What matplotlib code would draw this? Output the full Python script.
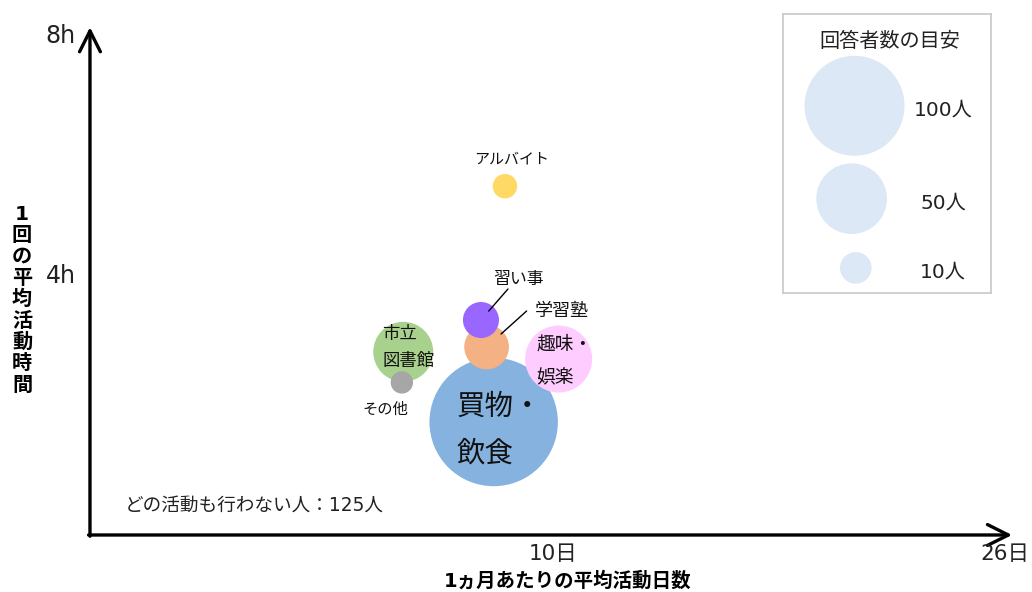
import matplotlib.pyplot as plt

plt.rcParams['font.family'] = ['DejaVu Sans', 'Noto Sans CJK JP']

# activity bubbles: days per month, hours per visit, respondents
activities = ['買物・飲食', '趣味・娯楽', '市立図書館', '学習塾', '習い事', 'アルバイト', 'その他']
days = [7.9, 10.2, 4.7, 7.65, 7.45, 8.3, 4.65]
hours = [1.55, 2.6, 2.72, 2.8, 3.25, 5.48, 2.21]
people = [165, 45, 36, 20, 13, 6, 5]
colors = ['#85b2df', '#ffccff', '#a9d18e', '#f4b183', '#9966ff', '#ffd966', '#a6a6a6']

legend_people = [100, 50, 10]
legend_labels = ['100人', '50人', '10人']

x_ticks = [10, 26]
x_ticklabels = ['10日', '26日']
y_ticks = [4, 8]
y_ticklabels = ['4h', '8h']

none_count = 125

SIZE_PER_PERSON = 51.8   # points^2 per respondent

fig = plt.figure(figsize=(10.32, 5.92), dpi=100)
ax = fig.add_axes([0, 0, 1, 1])
# 10日 at 553px, 26日 at 1005px ; 4h at 275px, 8h at 35px
ax.set_xlim(-9.575, 26.956)
ax.set_ylim(-1.283, 8.583)
ax.axis('off')

x0, y0 = -6.39, -0.333
ax.annotate('', xy=(26.25, y0), xytext=(x0 - 0.05, y0),
            arrowprops=dict(arrowstyle='->,head_length=1.5,head_width=0.75', color='black',
                            lw=2.4, shrinkA=0, shrinkB=0))
ax.annotate('', xy=(x0, 8.13), xytext=(x0, y0 - 0.02),
            arrowprops=dict(arrowstyle='->,head_length=1.5,head_width=0.75', color='black',
                            lw=2.4, shrinkA=0, shrinkB=0))

for t, lab in zip(y_ticks, y_ticklabels):
    ax.annotate(lab, xy=(x0, t), xytext=(-14, -1), textcoords='offset pixels',
                ha='right', va='center', fontsize=17, color='#222222')
for t, lab in zip(x_ticks, x_ticklabels):
    ax.annotate(lab, xy=(t, y0), xytext=(0, -19), textcoords='offset pixels',
                ha='center', va='center', fontsize=15.5, color='#222222')

ax.scatter(days, hours, s=[p * SIZE_PER_PERSON for p in people], c=colors,
           edgecolors='none', zorder=2)

# bubble labels: (activity index, text, offset px, ha, size)
labels = [
    (0, '買物・', (-37, 15), 'left', 20.5),
    (0, '飲食', (-37, -31), 'left', 20.5),
    (1, '趣味・', (-22, 15), 'left', 13.5),
    (1, '娯楽', (-22, -19), 'left', 13.5),
    (2, '市立', (-21, 18), 'left', 12.5),
    (2, '図書館', (-21, -9), 'left', 12.5),
    (3, '学習塾', (75, 36), 'center', 13),
    (4, '習い事', (38, 41), 'center', 12.2),
    (5, 'アルバイト', (7, 27), 'center', 10.8),
    (6, 'その他', (-17, -27), 'center', 11),
]
for i, txt, off, ha, fs in labels:
    ax.annotate(txt, xy=(days[i], hours[i]), xytext=off, textcoords='offset pixels',
                ha=ha, va='center', fontsize=fs, color='#111111', zorder=3)

# leader lines for 学習塾 and 習い事
for i, off, shrink in [(3, (40, 36), 14), (4, (27, 31), 8.5)]:
    ax.annotate('', xy=(days[i], hours[i]), xytext=off, textcoords='offset pixels',
                arrowprops=dict(arrowstyle='-', color='black', lw=1.0,
                                shrinkA=0, shrinkB=shrink), zorder=3)

ax.text(-5.15, 0.17, f'どの活動も行わない人：{none_count}人', ha='left', va='center',
        fontsize=13.4, color='#222222')

# axis titles
fig.text(568 / 1032, 1 - 581 / 592, '1ヵ月あたりの平均活動日数', ha='center', va='center',
         fontsize=14, fontweight='bold')
ylabel_chars = ['1', '回', 'の', '平', '均', '活', '動', '時', '間']
for k, ch in enumerate(ylabel_chars):
    fig.text(22 / 1032, 1 - (214 + k * 21.4) / 592, ch, ha='center', va='center',
             fontsize=14.5, fontweight='bold')

# size legend box
lax = fig.add_axes([783 / 1032, 1 - 293 / 592, 208 / 1032, 279 / 592])
lax.set_xlim(0, 1)
lax.set_ylim(0, 1)
lax.set_xticks([])
lax.set_yticks([])
for sp in lax.spines.values():
    sp.set_edgecolor('#c8c8c8')
    sp.set_linewidth(1.2)
leg_y = [0.671, 0.338, 0.09]
lax.scatter([0.344, 0.33, 0.35], leg_y, s=[p * SIZE_PER_PERSON for p in legend_people],
            c='#dce8f5', edgecolors='none')
for yy, lab in zip(leg_y, legend_labels):
    lax.text(0.77, yy - 0.015, lab, ha='center', va='center', fontsize=14.5, color='#222222')
lax.text(0.515, 0.903, '回答者数の目安', ha='center', va='center', fontsize=14.5, color='#222222')

fig.savefig('out.png', dpi=100, facecolor='white')
